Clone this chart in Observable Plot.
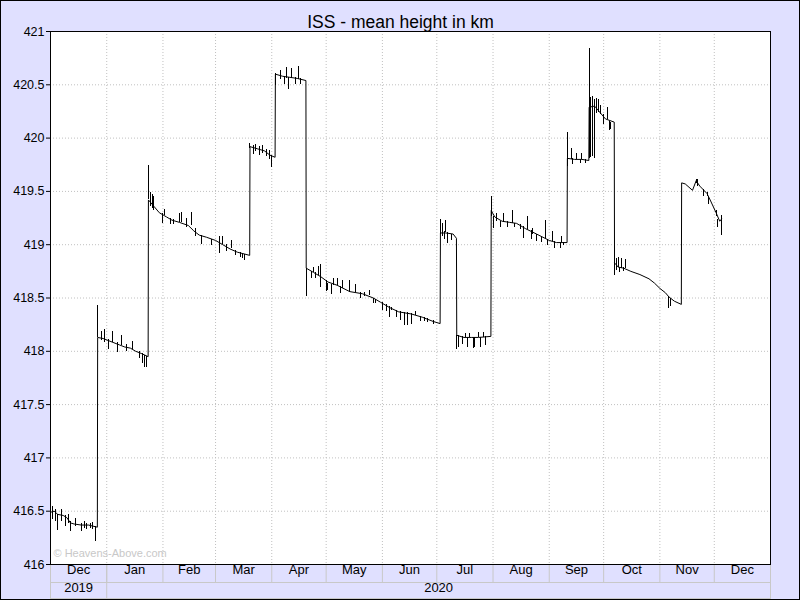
<!DOCTYPE html>
<html>
<head>
<meta charset="utf-8">
<script src="https://cdn.jsdelivr.net/npm/d3@7"></script>
<script src="https://cdn.jsdelivr.net/npm/@observablehq/plot@0.6"></script>
<style>
  html, body { margin: 0; padding: 0; background: #e0e0ff; }
  #chart svg { display: block; outline: 1px solid #000; outline-offset: -1px; }
</style>
</head>
<body>
<div id="chart"></div>
<script>
// ---- data ----
const title = "ISS - mean height in km";
const watermark = "© Heavens-Above.com";
const xStart = "2019-12-01";
const xEnd = "2021-01-01";
const yTicks = [416, 416.5, 417, 417.5, 418, 418.5, 419, 419.5, 420, 420.5, 421];
const monthStarts = ["2019-12-01","2020-01-01","2020-02-01","2020-03-01","2020-04-01","2020-05-01","2020-06-01","2020-07-01","2020-08-01","2020-09-01","2020-10-01","2020-11-01","2020-12-01"];
const monthLabels = ["Dec","Jan","Feb","Mar","Apr","May","Jun","Jul","Aug","Sep","Oct","Nov","Dec"];
const yearStarts = ["2019-12-01","2020-01-01"];
const yearLabels = ["2019","2020"];

const mainDates = [
  "2019-12-01","2019-12-03","2019-12-05","2019-12-08","2019-12-10","2019-12-12","2019-12-14","2019-12-18","2019-12-22","2019-12-26T20:00Z",
  "2019-12-27","2019-12-30","2020-01-02","2020-01-05","2020-01-08","2020-01-11","2020-01-14","2020-01-17","2020-01-20","2020-01-23T20:00Z",
  "2020-01-24","2020-01-27","2020-01-30","2020-02-03","2020-02-06","2020-02-10","2020-02-15","2020-02-18","2020-02-21","2020-02-25","2020-03-01","2020-03-05","2020-03-09","2020-03-13","2020-03-19T20:00Z",
  "2020-03-20","2020-03-24","2020-03-28","2020-03-31","2020-04-02T20:00Z",
  "2020-04-03","2020-04-07","2020-04-11","2020-04-15","2020-04-19T20:00Z",
  "2020-04-20","2020-04-24","2020-04-28","2020-05-02","2020-05-07","2020-05-14","2020-05-21","2020-05-27","2020-05-31","2020-06-05","2020-06-10","2020-06-17","2020-06-23","2020-06-29","2020-07-02T20:00Z",
  "2020-07-03","2020-07-06","2020-07-10","2020-07-11T20:00Z",
  "2020-07-12","2020-07-16","2020-07-20","2020-07-24","2020-07-30T20:00Z",
  "2020-07-31","2020-08-02","2020-08-06","2020-08-10","2020-08-14","2020-08-19","2020-08-25","2020-09-01","2020-09-05","2020-09-10T20:00Z",
  "2020-09-11","2020-09-15","2020-09-19","2020-09-22T20:00Z",
  "2020-09-23","2020-09-26","2020-09-28","2020-10-02","2020-10-06T20:00Z",
  "2020-10-07","2020-10-09","2020-10-12","2020-10-16","2020-10-21","2020-10-26","2020-10-29","2020-11-01","2020-11-04","2020-11-06","2020-11-09","2020-11-12T20:00Z",
  "2020-11-13","2020-11-15","2020-11-19","2020-11-21","2020-11-23","2020-11-27","2020-11-29","2020-12-02","2020-12-04","2020-12-05"
];
const mainHeights = [
  416.49,416.50,416.47,416.46,416.44,416.39,416.38,416.37,416.37,416.35,
  418.13,418.12,418.10,418.08,418.06,418.04,418.03,418.00,417.98,417.95,
  419.42,419.36,419.30,419.26,419.23,419.21,419.18,419.13,419.09,419.07,419.04,419.00,418.96,418.93,418.90,
  419.92,419.90,419.88,419.84,419.82,
  420.60,420.58,420.57,420.56,420.54,
  418.78,418.74,418.70,418.65,418.62,418.56,418.54,418.50,418.46,418.41,418.37,418.35,418.32,418.28,418.26,
  419.11,419.11,419.10,419.06,
  418.15,418.13,418.13,418.13,418.14,
  419.32,419.26,419.22,419.21,419.20,419.15,419.10,419.04,419.02,419.02,
  419.81,419.80,419.80,419.79,
  420.29,420.30,420.26,420.18,420.15,
  418.83,418.79,418.78,418.75,418.72,418.68,418.64,418.59,418.55,418.51,418.47,418.44,
  419.58,419.57,419.51,419.60,419.55,419.48,419.41,419.30,419.22,419.24
];

const spikeDates = [
  "2019-12-02","2019-12-04","2019-12-05","2019-12-07","2019-12-09","2019-12-11","2019-12-12","2019-12-15","2019-12-18","2019-12-20","2019-12-21","2019-12-23","2019-12-24","2019-12-26","2019-12-27",
  "2019-12-29","2019-12-31","2020-01-02","2020-01-04","2020-01-07","2020-01-09","2020-01-12","2020-01-15","2020-01-19","2020-01-21","2020-01-22","2020-01-23",
  "2020-01-24","2020-01-25","2020-01-26","2020-01-27","2020-02-01","2020-02-02","2020-02-05","2020-02-07","2020-02-10","2020-02-11","2020-02-14","2020-02-17","2020-02-19","2020-02-22","2020-02-28","2020-03-03","2020-03-05","2020-03-07","2020-03-10","2020-03-12","2020-03-15","2020-03-16","2020-03-17",
  "2020-03-20","2020-03-22","2020-03-23","2020-03-25","2020-03-27","2020-03-29","2020-03-31","2020-04-01",
  "2020-04-03","2020-04-06","2020-04-08","2020-04-09","2020-04-10","2020-04-12","2020-04-14","2020-04-16","2020-04-17",
  "2020-04-20","2020-04-23","2020-04-24","2020-04-25","2020-04-27","2020-04-28","2020-05-01","2020-05-02","2020-05-04","2020-05-05","2020-05-07","2020-05-09","2020-05-10","2020-05-14","2020-05-17","2020-05-20","2020-05-22","2020-05-25","2020-05-27","2020-05-28","2020-06-01","2020-06-03","2020-06-05","2020-06-06","2020-06-09","2020-06-11","2020-06-13","2020-06-15","2020-06-17","2020-06-19","2020-06-22","2020-06-24","2020-06-26","2020-06-29",
  "2020-07-03","2020-07-04","2020-07-05","2020-07-06","2020-07-07","2020-07-09",
  "2020-07-12","2020-07-13","2020-07-15","2020-07-17","2020-07-18","2020-07-19","2020-07-21","2020-07-22","2020-07-24","2020-07-25","2020-07-27","2020-07-28",
  "2020-07-31","2020-08-01","2020-08-03","2020-08-05","2020-08-07","2020-08-09","2020-08-12","2020-08-13","2020-08-16","2020-08-18","2020-08-20","2020-08-22","2020-08-23","2020-08-25","2020-08-28","2020-08-30","2020-08-31","2020-09-03","2020-09-04","2020-09-07","2020-09-08","2020-09-09",
  "2020-09-11","2020-09-13","2020-09-14","2020-09-16","2020-09-18","2020-09-19","2020-09-21",
  "2020-09-23","2020-09-24","2020-09-25","2020-09-26","2020-09-27","2020-09-28","2020-09-29","2020-10-01","2020-10-03","2020-10-04","2020-10-05",
  "2020-10-07","2020-10-08","2020-10-09","2020-10-10","2020-10-11","2020-10-12","2020-10-13","2020-11-06","2020-11-07",
  "2020-11-21","2020-11-22","2020-11-25","2020-11-27","2020-11-28","2020-12-02","2020-12-03","2020-12-05"
];
const spikeLow = [
  416.42,416.40,416.32,416.40,416.36,416.38,416.31,416.36,416.31,416.34,416.33,416.34,416.33,416.22,418.13,
  418.10,418.08,418.02,418.08,417.99,418.05,418.00,418.02,417.93,417.89,417.85,417.85,
  419.42,419.36,419.34,419.32,419.20,419.27,419.19,419.19,419.21,419.21,419.16,419.18,419.08,419.00,418.99,418.92,419.00,418.94,418.96,418.90,418.88,418.87,418.85,
  419.90,419.85,419.87,419.84,419.86,419.83,419.80,419.72,
  420.49,420.55,420.50,420.56,420.46,420.56,420.50,420.55,420.50,
  418.51,418.68,418.74,418.68,418.71,418.60,418.56,418.57,418.53,418.62,418.62,418.54,418.59,418.55,418.55,418.50,418.51,418.52,418.45,418.45,418.38,418.37,418.32,418.38,418.32,418.29,418.24,418.24,418.25,418.34,418.28,418.28,418.27,418.25,
  419.10,419.08,419.05,419.11,419.01,419.04,
  418.02,418.04,418.06,418.13,418.04,418.13,418.03,418.04,418.13,418.04,418.13,418.05,
  419.26,419.15,419.22,419.16,419.21,419.16,419.20,419.16,419.14,419.06,419.14,419.05,419.10,419.03,419.02,419.06,418.99,419.03,418.96,418.96,419.02,418.99,
  419.73,419.80,419.75,419.80,419.76,419.80,419.76,
  419.81,419.82,419.83,419.81,420.23,420.24,420.22,420.13,420.17,420.07,420.08,
  418.71,418.76,418.79,418.74,418.78,418.75,418.78,418.40,418.42,
  419.57,419.55,419.45,419.45,419.38,419.26,419.16,419.09
];
const spikeHigh = [
  416.54,416.52,416.47,416.52,416.46,416.47,416.40,416.43,416.38,416.40,416.38,416.38,416.39,416.36,418.43,
  418.19,418.20,418.11,418.19,418.08,418.15,418.06,418.09,418.00,417.98,417.96,417.95,
  419.74,419.49,419.47,419.45,419.29,419.33,419.25,419.24,419.29,419.30,419.25,419.30,419.15,419.09,419.05,419.08,419.08,419.00,419.04,418.95,418.93,418.92,418.91,
  419.95,419.93,419.94,419.92,419.93,419.89,419.88,419.84,
  420.61,420.63,420.58,420.66,420.57,420.65,420.57,420.67,420.56,
  418.78,418.75,418.79,418.74,418.80,418.81,418.66,418.64,418.63,418.68,418.68,418.61,418.66,418.66,418.63,418.55,418.55,418.57,418.50,418.49,418.46,418.44,418.42,418.41,418.38,418.37,418.36,418.36,418.35,418.37,418.33,418.32,418.31,418.29,
  419.24,419.20,419.12,419.23,419.11,419.10,
  418.15,418.15,418.14,418.17,418.13,418.17,418.13,418.13,418.18,418.13,418.18,418.14,
  419.45,419.26,419.29,419.22,419.29,419.22,419.32,419.20,419.19,419.17,419.26,419.13,419.15,419.10,419.07,419.23,419.05,419.12,419.03,419.02,419.08,419.02,
  420.05,419.90,419.81,419.86,419.80,419.86,419.80,
  420.84,420.38,420.39,420.36,420.37,420.36,420.31,420.22,420.29,420.16,420.15,
  418.83,418.87,418.88,418.79,418.87,418.79,418.86,418.51,418.50,
  419.61,419.61,419.52,419.49,419.45,419.32,419.24,419.27
];

// ---- build tables ----
const parse = s => new Date(s);
const main = mainDates.map((d, i) => ({date: parse(d), h: mainHeights[i]}));
const spikes = spikeDates.map((d, i) => ({date: parse(d), lo: spikeLow[i], hi: spikeHigh[i]}));
const months = monthStarts.map((d, i) => {
  const start = parse(d), end = parse(monthStarts[i + 1] ?? xEnd);
  return {start, mid: new Date((+start + +end) / 2), label: monthLabels[i]};
});
const years = yearStarts.map((d, i) => {
  const start = parse(d), end = parse(yearStarts[i + 1] ?? xEnd);
  return {start, mid: new Date((+start + +end) / 2), label: yearLabels[i]};
});

const W = 800, H = 600, mT = 31, mB = 36, mL = 50, mR = 30;
const frameH = H - mT - mB;
const cellLine = "#c8c8c8";

const chart = Plot.plot({
  width: W, height: H,
  marginTop: mT, marginBottom: mB, marginLeft: mL, marginRight: mR,
  style: {background: "#e0e0ff", fontFamily: "'Liberation Sans', Arial, sans-serif", fontSize: "12px", color: "black"},
  x: {type: "utc", domain: [parse(xStart), parse(xEnd)], axis: null},
  y: {domain: [416, 421], axis: null},
  marks: [
    Plot.frame({fill: "white"}),
    Plot.gridY(yTicks, {stroke: "#c0c0c0", strokeOpacity: 1, strokeDasharray: "1,2"}),
    Plot.gridX(months.slice(1).map(m => m.start), {stroke: "#c0c0c0", strokeOpacity: 1, strokeDasharray: "1,2"}),
    Plot.axisY(yTicks, {tickSize: 4, tickPadding: 2, fontSize: 12.5, label: null, tickFormat: d => String(d)}),
    Plot.text([watermark], {frameAnchor: "bottom-left", dx: 3, dy: -8, textAnchor: "start", fill: "#c8c8c8", fontSize: 11}),
    Plot.line(main, {x: "date", y: "h", stroke: "black", strokeWidth: 1}),
    Plot.ruleX(spikes, {x: "date", y1: "lo", y2: "hi", stroke: "black", strokeWidth: 1, shapeRendering: "crispEdges"}),
    Plot.frame({stroke: "black"}),
    // bottom date band
    Plot.frame({stroke: cellLine, insetTop: frameH, insetBottom: -18}),
    Plot.frame({stroke: cellLine, insetTop: frameH + 18, insetBottom: -34}),
    Plot.ruleX(months.slice(1), {x: "start", stroke: cellLine, insetTop: frameH, insetBottom: -18}),
    Plot.ruleX(years.slice(1), {x: "start", stroke: cellLine, insetTop: frameH, insetBottom: -34}),
    Plot.text(months, {x: "mid", text: "label", frameAnchor: "bottom", dy: 9, fontSize: 13}),
    Plot.text(years, {x: "mid", text: "label", frameAnchor: "bottom", dy: 27, fontSize: 13}),
    Plot.frame({stroke: "black"}),
    Plot.text([title], {frameAnchor: "top", dx: -10, dy: -16, fontSize: 17.5})
  ]
});
document.getElementById("chart").appendChild(chart);
</script>
</body>
</html>
